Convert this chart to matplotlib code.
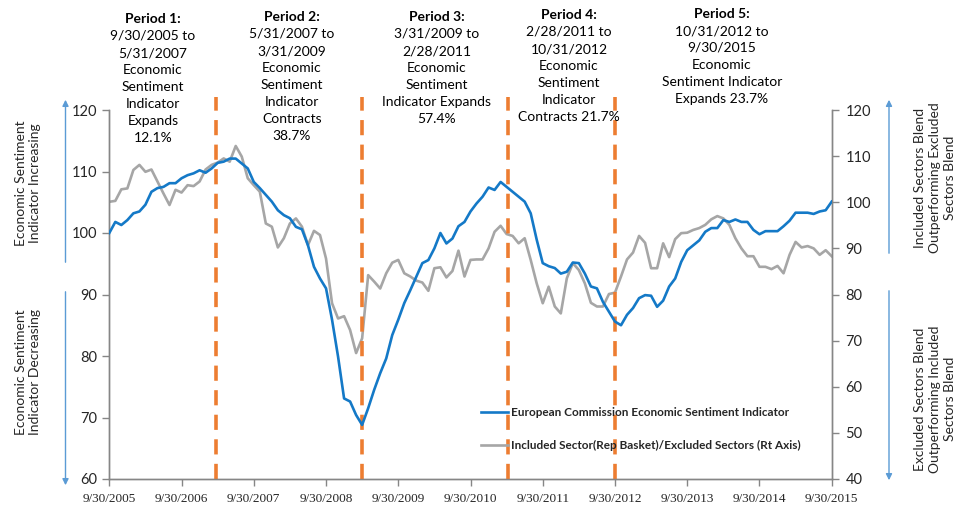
import matplotlib
matplotlib.use("Agg")
import matplotlib.pyplot as plt
from matplotlib.patches import FancyArrowPatch
from matplotlib.lines import Line2D

# ---------------- data ----------------
tick_labels = ["9/30/2005", "9/30/2006", "9/30/2007", "9/30/2008", "9/30/2009",
               "9/30/2010", "9/30/2011", "9/30/2012", "9/30/2013", "9/30/2014", "9/30/2015"]

esi = [100.0, 101.8, 101.3, 102.1, 103.2, 103.5, 104.6, 106.7, 107.3, 107.5,
       108.1, 108.1, 108.9, 109.4, 109.7, 110.2, 109.8, 110.5, 111.4, 111.6,
       112.1, 112.1, 111.3, 110.5, 108.3, 107.3, 106.2, 105.1, 103.7, 102.9,
       102.4, 101.0, 100.6, 98.0, 94.5, 92.6, 91.0, 85.9, 79.9, 73.1,
       72.6, 70.4, 68.8, 71.5, 74.5, 77.2, 79.6, 83.4, 85.9, 88.6,
       90.7, 92.9, 95.1, 95.6, 97.5, 100.0, 98.3, 99.1, 101.1, 101.8,
       103.5, 104.8, 105.9, 107.4, 107.0, 108.3, 107.5, 106.7, 105.9, 105.1,
       103.2, 98.9, 95.1, 94.6, 94.3, 93.4, 93.7, 95.2, 95.1, 93.4,
       91.3, 91.0, 88.8, 87.2, 85.6, 85.0, 86.7, 87.8, 89.4, 89.9,
       89.8, 88.0, 89.0, 91.3, 92.6, 95.3, 97.2, 98.0, 98.8, 100.2,
       100.8, 100.8, 102.1, 101.8, 102.2, 101.8, 101.8, 100.5, 99.8, 100.3,
       100.3, 100.3, 101.1, 102.0, 103.3, 103.3, 103.3, 103.1, 103.5, 103.7,
       105.1]

ratio = [100.1, 100.3, 102.8, 103.0, 107.0, 108.1, 106.6, 107.1, 104.5, 101.9,
         99.4, 102.7, 102.1, 103.7, 103.5, 104.5, 107.1, 108.1, 108.6, 109.5,
         108.8, 112.2, 109.9, 105.2, 103.7, 102.3, 95.4, 94.7, 90.2, 92.2,
         95.4, 96.5, 94.7, 90.7, 93.8, 92.9, 87.8, 78.1, 74.8, 75.3,
         72.3, 67.3, 70.5, 84.2, 82.8, 81.3, 84.6, 86.9, 87.5, 84.6,
         83.9, 83.0, 82.6, 80.8, 85.7, 85.9, 83.7, 85.1, 89.5, 83.9,
         87.5, 87.6, 87.6, 90.0, 93.6, 94.9, 93.1, 92.7, 91.1, 92.2,
         87.5, 82.4, 78.1, 81.7, 77.4, 75.9, 83.5, 86.8, 85.3, 82.4,
         78.2, 77.4, 77.4, 80.1, 80.4, 83.9, 87.6, 89.1, 92.7, 91.2,
         85.7, 85.7, 91.1, 88.1, 92.0, 93.3, 93.4, 94.0, 94.4, 95.1,
         96.3, 97.0, 96.5, 95.1, 92.2, 90.0, 88.3, 88.3, 86.0, 86.0,
         85.5, 86.2, 84.6, 88.6, 91.4, 90.2, 90.5, 90.0, 88.6, 89.6,
         88.3]

# month index of period boundary lines
boundaries = [17.7, 42.0, 66.2, 84.0]

period_titles = ["Period 1:", "Period 2:", "Period 3:", "Period 4:", "Period 5:"]
period_texts = [
    ["9/30/2005 to", "5/31/2007", "Economic", "Sentiment", "Indicator", "Expands", "12.1%"],
    ["5/31/2007 to", "3/31/2009", "Economic", "Sentiment", "Indicator", "Contracts", "38.7%"],
    ["3/31/2009 to", "2/28/2011", "Economic", "Sentiment", "Indicator Expands", "57.4%"],
    ["2/28/2011 to", "10/31/2012", "Economic", "Sentiment", "Indicator", "Contracts 21.7%"],
    ["10/31/2012 to", "9/30/2015", "Economic", "Sentiment Indicator", "Expands 23.7%"],
]
series_names = ["European Commission Economic Sentiment Indicator",
                "Included Sector(Rep Basket)/Excluded Sectors (Rt Axis)"]

# ---------------- figure ----------------
W, H = 961, 517
FONT = ["Lato", "DejaVu Sans"]
plt.rcParams['font.family'] = FONT
fig = plt.figure(figsize=(W / 100, H / 100), dpi=100)

def fx(px):
    return px / W

def fy(py):
    return 1 - py / H

ax = fig.add_axes([fx(109.3), fy(479), fx(831.7) - fx(109.3), fy(110) - fy(479)])
ax2 = ax.twinx()

months = list(range(len(esi)))
BLUE = "#1479C7"
GRAY = "#A6A6A6"
ORANGE = "#ED7D31"
AX_COL = "#868686"
TXT = "#262626"

ax2.plot(months, ratio, color=GRAY, lw=1.9, zorder=2)
ax.plot(months, esi, color=BLUE, lw=1.9, zorder=3)
ax.set_zorder(ax2.get_zorder() + 1)
ax.patch.set_visible(False)

ax.set_xlim(0, 120)
ax.set_ylim(60, 120)
ax2.set_ylim(40, 120)
ax.set_yticks(range(60, 121, 10))
ax2.set_yticks(range(40, 121, 10))
ax.set_xticks(range(0, 121, 12))
ax.set_xticklabels(tick_labels, family=["Liberation Serif"], fontsize=9.5, color=TXT)

for a in (ax, ax2):
    a.spines['top'].set_visible(False)
    for s in ('left', 'right', 'bottom'):
        a.spines[s].set_color(AX_COL)
        a.spines[s].set_linewidth(1.0)
    a.tick_params(colors=AX_COL, labelcolor=TXT, length=5, width=1.0, labelsize=10.5)
ax.tick_params(axis='x', length=5, pad=5, labelsize=9.5)
ax.tick_params(axis='y', pad=4)
ax2.tick_params(axis='y', pad=5)

for b in boundaries:
    ax.axvline(b, ymin=0, ymax=1.035, color=ORANGE, lw=2.6, dashes=(4.2, 2.6),
               clip_on=False, zorder=1)

# legend
handles = [Line2D([], [], color=BLUE, lw=1.9), Line2D([], [], color=GRAY, lw=1.9)]
leg = ax.legend(handles, series_names, loc='upper left', bbox_to_anchor=(0.50, 0.224),
                frameon=False, handlelength=2.3, handletextpad=0.2, labelspacing=1.9,
                prop={'family': FONT, 'size': 8.5, 'weight': 'bold'})
for t in leg.get_texts():
    t.set_color(TXT)
leg.set_zorder(5)

# period annotations
centers = [153, 292, 437, 569, 722]
tops = [19, 17, 17, 15, 14]
for cx, y0, title, lines in zip(centers, tops, period_titles, period_texts):
    fig.text(fx(cx), fy(y0), title, ha='center', va='center', fontsize=10,
             fontweight='bold', color='black')
    for i, ln in enumerate(lines):
        fig.text(fx(cx), fy(y0 + 17 * (i + 1)), ln, ha='center', va='center',
                 fontsize=10, color='black')

# side arrows
ARR = "#5B9BD5"
def arrow(x, y1, y2):
    fig.add_artist(FancyArrowPatch((fx(x), fy(y1)), (fx(x), fy(y2)),
                                   transform=fig.transFigure, arrowstyle='-|>',
                                   mutation_scale=9, color=ARR, lw=1.0))

arrow(65.5, 265, 97)
arrow(65.5, 289, 488)
arrow(889, 256, 97)
arrow(889, 288, 483)

fig.text(fx(28), fy(183), "Economic Sentiment\nIndicator Increasing", rotation=90,
         ha='center', va='center', multialignment='center', fontsize=10, color=TXT,
         linespacing=1.25)
fig.text(fx(28), fy(372), "Economic Sentiment\nIndicator Decreasing", rotation=90,
         ha='center', va='center', multialignment='center', fontsize=10, color=TXT,
         linespacing=1.25)
fig.text(fx(935), fy(178), "Included Sectors Blend\nOutperforming Excluded\nSectors Blend",
         rotation=90, ha='center', va='center', multialignment='center', fontsize=10,
         color=TXT, linespacing=1.25)
fig.text(fx(935), fy(399), "Excluded Sectors Blend\nOutperforming Included\nSectors Blend",
         rotation=90, ha='center', va='center', multialignment='center', fontsize=10,
         color=TXT, linespacing=1.25)

fig.savefig("out.png", dpi=100)
